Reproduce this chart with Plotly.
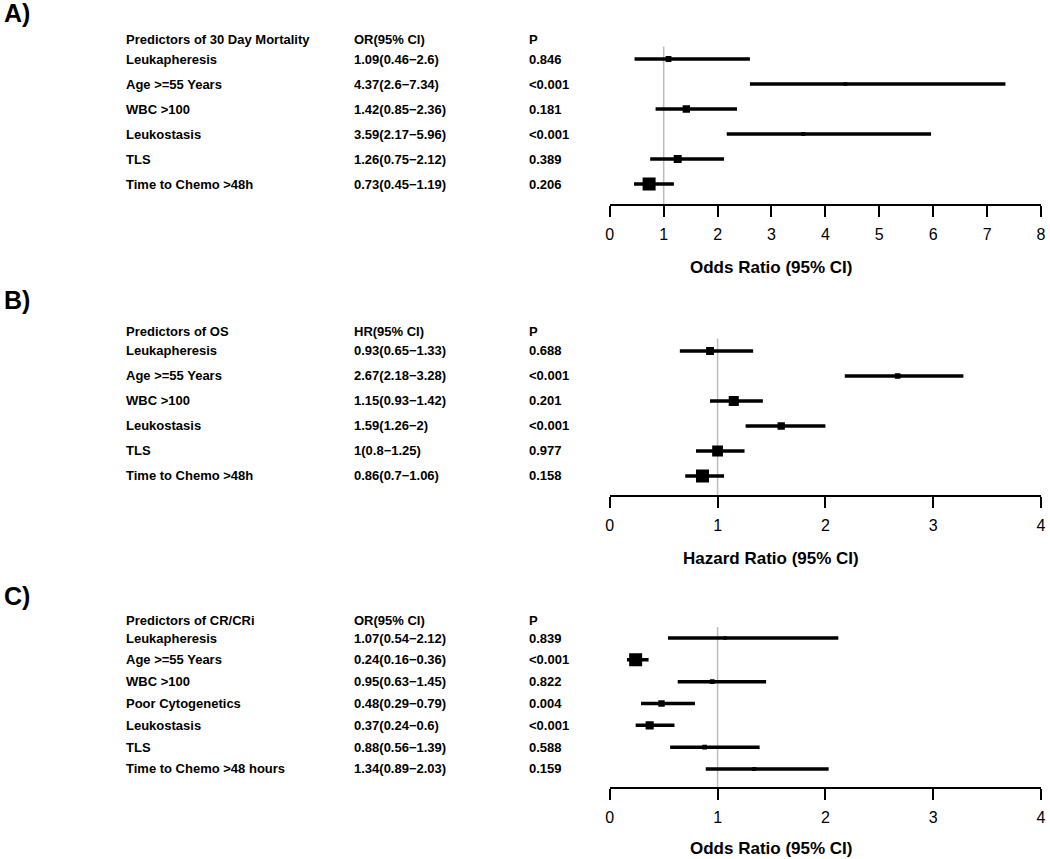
import plotly.graph_objects as go

# ---------------- data ----------------
A_header = ["Predictors of 30 Day Mortality", "OR(95% CI)", "P"]
A_labels = ["Leukapheresis", "Age >=55 Years", "WBC >100", "Leukostasis", "TLS", "Time to Chemo >48h"]
A_est = [1.09, 4.37, 1.42, 3.59, 1.26, 0.73]
A_lo = [0.46, 2.6, 0.85, 2.17, 0.75, 0.45]
A_hi = [2.6, 7.34, 2.36, 5.96, 2.12, 1.19]
A_p = ["0.846", "<0.001", "0.181", "<0.001", "0.389", "0.206"]
A_ticks = [0, 1, 2, 3, 4, 5, 6, 7, 8]
A_title = "Odds Ratio (95% CI)"

B_header = ["Predictors of OS", "HR(95% CI)", "P"]
B_labels = ["Leukapheresis", "Age >=55 Years", "WBC >100", "Leukostasis", "TLS", "Time to Chemo >48h"]
B_est = [0.93, 2.67, 1.15, 1.59, 1, 0.86]
B_lo = [0.65, 2.18, 0.93, 1.26, 0.8, 0.7]
B_hi = [1.33, 3.28, 1.42, 2, 1.25, 1.06]
B_p = ["0.688", "<0.001", "0.201", "<0.001", "0.977", "0.158"]
B_ticks = [0, 1, 2, 3, 4]
B_title = "Hazard Ratio (95% CI)"

C_header = ["Predictors of CR/CRi", "OR(95% CI)", "P"]
C_labels = ["Leukapheresis", "Age >=55 Years", "WBC >100", "Poor Cytogenetics", "Leukostasis", "TLS",
            "Time to Chemo >48 hours"]
C_est = [1.07, 0.24, 0.95, 0.48, 0.37, 0.88, 1.34]
C_lo = [0.54, 0.16, 0.63, 0.29, 0.24, 0.56, 0.89]
C_hi = [2.12, 0.36, 1.45, 0.79, 0.6, 1.39, 2.03]
C_p = ["0.839", "<0.001", "0.822", "0.004", "<0.001", "0.588", "0.159"]
C_ticks = [0, 1, 2, 3, 4]
C_title = "Odds Ratio (95% CI)"

panels = [
    dict(tag="A)", header=A_header, labels=A_labels, est=A_est, lo=A_lo, hi=A_hi, p=A_p, ticks=A_ticks,
         title=A_title),
    dict(tag="B)", header=B_header, labels=B_labels, est=B_est, lo=B_lo, hi=B_hi, p=B_p, ticks=B_ticks,
         title=B_title),
    dict(tag="C)", header=C_header, labels=C_labels, est=C_est, lo=C_lo, hi=C_hi, p=C_p, ticks=C_ticks,
         title=C_title),
]

# ---------------- layout constants (pixels) ----------------
W, H = 1050, 859
FONT = "Liberation Sans, Arial, sans-serif"
geom = [
    dict(row1=59, step=25.0, axis=204, top=36, tag_y=13, title_y=268),
    dict(row1=351, step=25.0, axis=495, top=326, tag_y=300, title_y=558),
    dict(row1=638, step=21.83, axis=787, top=616, tag_y=596, title_y=848),
]
X_LEFT, X_RIGHT = 611, 1046
COL_X = [123, 353, 530]
TITLE_X = 774


def px_x(v):
    return v / W


def px_y(v):
    return 1 - v / H


def fmt(v):
    return f"{v:g}"


fig = go.Figure()
annotations = []
shapes = []

for k, (pn, g) in enumerate(zip(panels, geom)):
    sfx = "" if k == 0 else str(k + 1)
    xa, ya = "x" + sfx, "y" + sfx
    n = len(pn["labels"])
    rows = list(range(1, n + 1))
    y_bottom = 1 + (g["axis"] - g["row1"]) / g["step"]
    y_top = 1 - (g["row1"] - g["top"]) / g["step"]

    # CI lines
    lx, ly = [], []
    for lo, hi, r in zip(pn["lo"], pn["hi"], rows):
        lx += [lo, hi, None]
        ly += [r, r, None]
    fig.add_trace(go.Scatter(x=lx, y=ly, mode="lines", xaxis=xa, yaxis=ya,
                             line=dict(color="black", width=3.5), hoverinfo="skip", showlegend=False))

    # boxes sized by precision (1/CI width), as forestplot does
    info = [1 / (hi - lo) for lo, hi in zip(pn["lo"], pn["hi"])]
    mx = max(info)
    sizes = [11 * v / mx + 2 for v in info]
    fig.add_trace(go.Scatter(x=pn["est"], y=rows, mode="markers", xaxis=xa, yaxis=ya,
                             marker=dict(symbol="square", color="black", size=sizes, opacity=1,
                                         line=dict(width=0)),
                             showlegend=False))

    # reference line at 1
    shapes.append(dict(type="line", xref=xa, yref=ya, x0=1, x1=1, y0=0.5, y1=y_bottom,
                       line=dict(color="#bdbdbd", width=1.5), layer="below"))

    dom_x = [px_x(X_LEFT), px_x(X_RIGHT)]
    dom_y = [px_y(g["axis"]), px_y(g["top"])]
    fig.layout["xaxis" + sfx] = dict(
        domain=dom_x, range=[pn["ticks"][0], pn["ticks"][-1]], anchor=ya,
        tickvals=pn["ticks"], ticktext=[str(t) for t in pn["ticks"]],
        showline=True, linecolor="black", linewidth=2, ticks="outside", ticklen=11,
        tickwidth=2, tickcolor="black", showgrid=False, zeroline=False,
        tickfont=dict(family=FONT, size=16, color="black"), ticklabelstandoff=4,
        ticklabeloverflow="allow",
    )
    fig.layout["yaxis" + sfx] = dict(
        domain=dom_y, range=[y_bottom, y_top], anchor=xa, visible=False,
        showgrid=False, zeroline=False,
    )

    # table text
    bold = dict(family=FONT, size=13, color="black", weight="bold")
    hdr_y = 1 - 0.78
    common = dict(showarrow=False, xanchor="left", yanchor="middle", font=bold,
                  borderpad=0, borderwidth=0)
    for cx, txt in zip(COL_X, pn["header"]):
        annotations.append(dict(x=px_x(cx), xref="paper", y=hdr_y, yref=ya, text=txt, **common))
    for r, lab, e, lo, hi, p in zip(rows, pn["labels"], pn["est"], pn["lo"], pn["hi"], pn["p"]):
        for cx, txt in zip(COL_X, [lab, f"{fmt(e)}({fmt(lo)}\u2212{fmt(hi)})", p]):
            annotations.append(dict(x=px_x(cx), xref="paper", y=r, yref=ya, text=txt, **common))

    # panel tag
    annotations.append(dict(x=0, xref="paper", y=px_y(g["tag_y"]), yref="paper", text=pn["tag"],
                            showarrow=False, xanchor="left", yanchor="middle", borderpad=0, borderwidth=0,
                            font=dict(family=FONT, size=25, color="black", weight="bold")))
    # axis title
    annotations.append(dict(x=px_x(TITLE_X), xref="paper", y=px_y(g["title_y"]), yref="paper",
                            text=pn["title"], showarrow=False, xanchor="center", yanchor="middle",
                            font=dict(family=FONT, size=17, color="black", weight="bold")))

fig.update_layout(
    width=W, height=H, margin=dict(l=0, r=0, t=0, b=0),
    paper_bgcolor="white", plot_bgcolor="white",
    annotations=annotations, shapes=shapes, showlegend=False,
)

fig.write_html("out.html", config={"displayModeBar": False},
               post_script="document.body.style.margin='0';document.body.style.overflow='hidden';")
